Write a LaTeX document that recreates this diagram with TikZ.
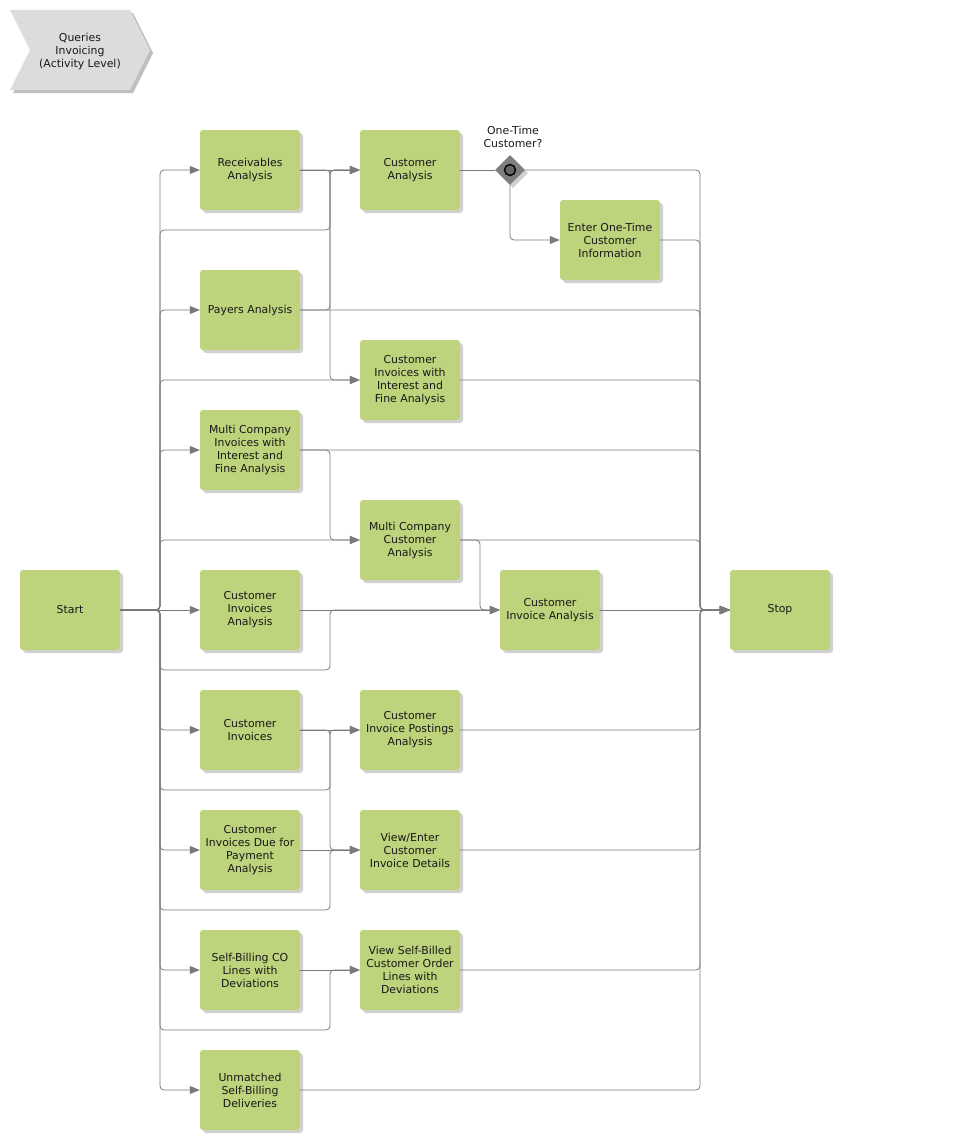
\documentclass[tikz,border=0pt]{standalone}
\usepackage{fontspec}
\setmainfont{DejaVu Sans}
\usetikzlibrary{arrows.meta,shapes.geometric,shadows}
\definecolor{boxgreen}{HTML}{BDD37C}
\definecolor{linegray}{HTML}{7A7A7A}
\definecolor{hdrgray}{HTML}{DCDCDC}
\definecolor{gwgray}{HTML}{7E7E7E}
\tikzset{
  task/.style={rectangle, rounded corners=3pt, fill=boxgreen, minimum width=100pt, minimum height=80pt,
    inner sep=1pt, align=center, text=black!90, font=\fontsize{10.9}{13}\selectfont,
    drop shadow={shadow xshift=3pt, shadow yshift=-3pt, fill=black!40, opacity=0.45}},
  flow/.style={draw=linegray, line width=0.8pt, rounded corners=4pt},
  arr/.style={flow, -{Triangle[length=10pt,width=8pt,fill=linegray]}},
  lbl/.style={font=\fontsize{10.9}{13}\selectfont, align=center, text=black!90}
}
\begin{document}
\begin{tikzpicture}[x=1pt,y=-1pt]
\useasboundingbox (0,0) rectangle (964,1140);
% header chevron
\fill[black!25] (13,13) -- (133,13) -- (153,53) -- (133,93) -- (13,93) -- (33,53) -- cycle;
\fill[hdrgray] (10,10) -- (130,10) -- (150,50) -- (130,90) -- (10,90) -- (30,50) -- cycle;
\node[lbl] (hdr) at (80,51) {Queries\\Invoicing\\(Activity Level)};

% nodes
\node[task] (start) at (70,610) {Start};
\node[task] (stop) at (780,610) {Stop};
\node[task] (rec) at (250,170) {Receivables\\Analysis};
\node[task] (pay) at (250,310) {Payers Analysis};
\node[task] (mci) at (250,450) {Multi Company\\Invoices with\\Interest and\\Fine Analysis};
\node[task] (cian) at (250,610) {Customer\\Invoices\\Analysis};
\node[task] (ci) at (250,730) {Customer\\Invoices};
\node[task] (cidp) at (250,850) {Customer\\Invoices Due for\\Payment\\Analysis};
\node[task] (sb) at (250,970) {Self-Billing CO\\Lines with\\Deviations};
\node[task] (um) at (250,1090) {Unmatched\\Self-Billing\\Deliveries};
\node[task] (ca) at (410,170) {Customer\\Analysis};
\node[task] (ciwif) at (410,380) {Customer\\Invoices with\\Interest and\\Fine Analysis};
\node[task] (mcca) at (410,540) {Multi Company\\Customer\\Analysis};
\node[task] (cipa) at (410,730) {Customer\\Invoice Postings\\Analysis};
\node[task] (vecid) at (410,850) {View/Enter\\Customer\\Invoice Details};
\node[task] (vsb) at (410,970) {View Self-Billed\\Customer Order\\Lines with\\Deviations};
\node[task] (eotc) at (610,240) {Enter One-Time\\Customer\\Information};
\node[task] (cia2) at (550,610) {Customer\\Invoice Analysis};
\node[diamond, fill=gwgray, minimum width=30pt, minimum height=30pt, inner sep=0pt,
  drop shadow={shadow xshift=3pt, shadow yshift=-3pt, fill=black!40, opacity=0.45}] (gw) at (510,170) {};
\draw[black, line width=1.4pt, fill=gwgray!80!black] (gw.center) circle (5.5pt);
\node[lbl] (gwl) at (513,137) {One-Time\\Customer?};

\coordinate (lt) at (160,610);
\coordinate (rt) at (700,610);

% from start
\draw[arr] (start.east) -- (lt) |- (rec.west);
\draw[arr] (start.east) -- (lt) |- (pay.west);
\draw[arr] (start.east) -- (lt) |- (mci.west);
\draw[arr] (start.east) -- (cian.west);
\draw[arr] (start.east) -- (lt) |- (ci.west);
\draw[arr] (start.east) -- (lt) |- (cidp.west);
\draw[arr] (start.east) -- (lt) |- (sb.west);
\draw[arr] (start.east) -- (lt) |- (um.west);
\draw[arr] (start.east) -- (lt) |- (330,230) |- (ca.west);
\draw[arr] (start.east) -- (lt) |- (ciwif.west);
\draw[arr] (start.east) -- (lt) |- (mcca.west);
\draw[arr] (start.east) -- (lt) |- (330,670) |- (cia2.west);
\draw[arr] (start.east) -- (lt) |- (330,790) |- (cipa.west);
\draw[arr] (start.east) -- (lt) |- (330,910) |- (vecid.west);
\draw[arr] (start.east) -- (lt) |- (330,1030) |- (vsb.west);

% column 1 outputs
\draw[arr] (rec.east) -- (ca.west);
\draw[arr] (rec.east) -| (330,380) -- (ciwif.west);
\draw[arr] (pay.east) -| (330,170) -- (ca.west);
\draw[arr] (pay.east) -| (rt) -- (stop.west);
\draw[arr] (mci.east) -| (rt) -- (stop.west);
\draw[arr] (mci.east) -| (330,540) -- (mcca.west);
\draw[arr] (cian.east) -- (cia2.west);
\draw[arr] (ci.east) -- (cipa.west);
\draw[arr] (ci.east) -| (330,850) -- (vecid.west);
\draw[arr] (cidp.east) -- (vecid.west);
\draw[arr] (sb.east) -- (vsb.west);
\draw[arr] (um.east) -| (rt) -- (stop.west);

% column 2 outputs
\draw[flow] (ca.east) -- (gw.west);
\draw[arr] (gw.east) -| (rt) -- (stop.west);
\draw[arr] (gw.south) |- (eotc.west);
\draw[arr] (eotc.east) -| (rt) -- (stop.west);
\draw[arr] (ciwif.east) -| (rt) -- (stop.west);
\draw[arr] (mcca.east) -| (rt) -- (stop.west);
\draw[arr] (mcca.east) -| (480,610) -- (cia2.west);
\draw[arr] (cia2.east) -- (stop.west);
\draw[arr] (cipa.east) -| (rt) -- (stop.west);
\draw[arr] (vecid.east) -| (rt) -- (stop.west);
\draw[arr] (vsb.east) -| (rt) -- (stop.west);
\end{tikzpicture}
\end{document}
